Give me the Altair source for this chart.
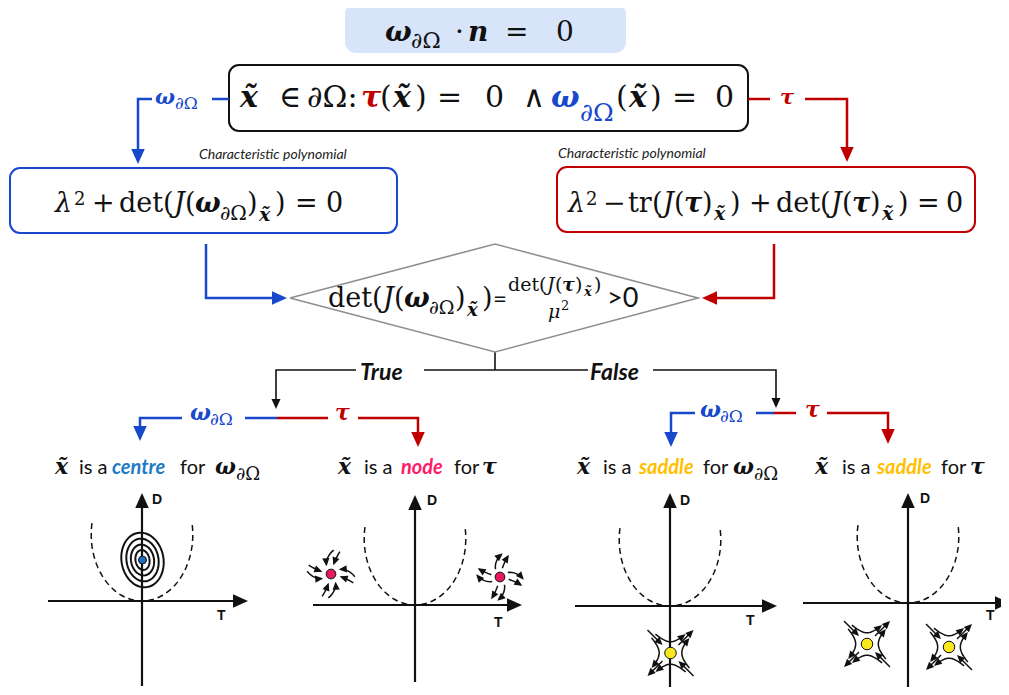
import math
import numpy as np
import pandas as pd
import altair as alt

# ---------------- canvas (reference pixel coordinates) ----------------
W, H = 993, 679
X_DOMAIN = [8, 8 + W]
Y_DOMAIN = [8 + H, 8]

BLUE = "#1848cc"
RED = "#c00000"
BLACK = "#111111"
GREY = "#8f8f8f"
TITLE_FILL = "#d7e4fa"
CENTRE_COL = "#1f7ac8"
NODE_COL = "#ff1a6c"
SADDLE_COL = "#ffc000"
DOT_CENTRE = "#1f6fc1"
DOT_NODE = "#e8185c"
DOT_SADDLE = "#f8e71c"

# ---------------- boxes ----------------
BOX_X1 = [346, 229, 10, 557]
BOX_X2 = [625, 748, 397, 975]
BOX_Y1 = [4, 65, 168, 167]
BOX_Y2 = [52, 131, 233, 232]
BOX_FILL = [TITLE_FILL, "white", "white", "white"]
BOX_STROKE = [TITLE_FILL, BLACK, BLUE, RED]

# ---------------- connectors: (colour, width, arrow radius, points) ----------------
CONNECTORS = [
    (BLUE, 2.5, 0, [(229, 99), (212, 99)]),
    (BLUE, 2.5, 7.5, [(152, 99), (138, 99), (138, 164)]),
    (RED, 2.5, 0, [(748, 99), (770, 99)]),
    (RED, 2.5, 7.5, [(805, 99), (847, 99), (847, 162)]),
    (BLUE, 2.5, 7.5, [(206, 244), (206, 298), (287, 298)]),
    (RED, 2.5, 7.5, [(774, 244), (774, 298), (702, 298)]),
    (BLUE, 2.5, 0, [(277, 418), (245, 418)]),
    (BLUE, 2.5, 7.5, [(182, 418), (140, 418), (140, 441)]),
    (RED, 2.5, 0, [(277, 418), (328, 418)]),
    (RED, 2.5, 7.5, [(358, 418), (418, 418), (418, 447)]),
    (BLUE, 2.5, 0, [(774, 413), (756, 413)]),
    (BLUE, 2.5, 7.5, [(695, 413), (671, 413), (671, 447)]),
    (RED, 2.5, 0, [(774, 413), (796, 413)]),
    (RED, 2.5, 7.5, [(827, 413), (888, 413), (888, 444)]),
    (BLACK, 1.6, 0, [(495, 352), (495, 370)]),
    (BLACK, 1.6, 5, [(356, 370), (276, 370), (276, 409)]),
    (BLACK, 1.6, 0, [(424, 370), (588, 370)]),
    (BLACK, 1.6, 5, [(653, 370), (776, 370), (776, 408)]),
]
DIAMOND_X = [290, 495, 698, 495, 290]
DIAMOND_Y = [298, 244, 298, 352, 298]

# ---------------- text pieces: (text, left x, baseline y, size, colour, style) ----------------
XT = "x\u0303"
TITLE_TEXT = [
    ("ω", 385, 41, 28, BLACK, "mbi"), ("∂Ω", 411, 48, 22, BLACK, "m"),
    ("·", 455, 41, 28, BLACK, "m"), ("n", 468, 41, 28, BLACK, "mbi"),
    ("=", 505, 41, 28, BLACK, "m"), ("0", 556, 41, 28, BLACK, "m"),
]
MAIN_TEXT = [
    (XT, 240, 107, 30, BLACK, "mbi"), ("∈", 279, 107, 30, BLACK, "m"),
    ("∂Ω:", 307, 107, 30, BLACK, "m"), ("τ", 361, 107, 30, RED, "mbi"),
    ("(", 380, 107, 30, BLACK, "m"), (XT, 393, 107, 30, BLACK, "mbi"),
    (")", 415, 107, 30, BLACK, "m"), ("=", 437, 107, 30, BLACK, "m"),
    ("0", 485, 107, 30, BLACK, "m"), ("∧", 523, 107, 30, BLACK, "m"),
    ("ω", 551, 107, 30, BLUE, "mbi"), ("∂Ω", 580, 121, 25, BLUE, "m"),
    ("(", 616, 107, 30, BLACK, "m"), (XT, 629, 107, 30, BLACK, "mbi"),
    (")", 650, 107, 30, BLACK, "m"), ("=", 672, 107, 30, BLACK, "m"),
    ("0", 715, 107, 30, BLACK, "m"),
]
LEFT_EQ = [
    ("λ", 55, 212, 27, BLACK, "mi"), ("2", 74, 205, 18, BLACK, "m"),
    ("+", 92, 212, 27, BLACK, "m"), ("det", 119, 212, 27, BLACK, "m"),
    ("(", 163, 212, 27, BLACK, "m"), ("J", 174, 212, 27, BLACK, "mi"),
    ("(", 185, 212, 27, BLACK, "m"), ("ω", 195, 212, 27, BLACK, "mbi"),
    ("∂Ω", 220, 220, 20, BLACK, "m"), (")", 247, 212, 27, BLACK, "m"),
    (XT, 259, 221, 19, BLACK, "mbi"), (")", 275, 212, 27, BLACK, "m"),
    ("=", 295, 212, 27, BLACK, "m"), ("0", 326, 212, 27, BLACK, "m"),
]
RIGHT_EQ = [
    ("λ", 568, 212, 27, BLACK, "mi"), ("2", 586, 205, 18, BLACK, "m"),
    ("−", 603, 212, 27, BLACK, "m"), ("tr", 628, 212, 27, BLACK, "m"),
    ("(", 652, 212, 27, BLACK, "m"), ("J", 663, 212, 27, BLACK, "mi"),
    ("(", 674, 212, 27, BLACK, "m"), ("τ", 684, 212, 27, BLACK, "mbi"),
    (")", 702, 212, 27, BLACK, "m"), (XT, 714, 220, 19, BLACK, "mbi"),
    (")", 730, 212, 27, BLACK, "m"), ("+", 749, 212, 27, BLACK, "m"),
    ("det", 776, 212, 27, BLACK, "m"), ("(", 820, 212, 27, BLACK, "m"),
    ("J", 831, 212, 27, BLACK, "mi"), ("(", 842, 212, 27, BLACK, "m"),
    ("τ", 852, 212, 27, BLACK, "mbi"), (")", 870, 212, 27, BLACK, "m"),
    (XT, 882, 220, 19, BLACK, "mbi"), (")", 898, 212, 27, BLACK, "m"),
    ("=", 917, 212, 27, BLACK, "m"), ("0", 946, 212, 27, BLACK, "m"),
]
DIAMOND_EQ = [
    ("det", 328, 307, 27, BLACK, "m"), ("(", 372, 307, 27, BLACK, "m"),
    ("J", 383, 307, 27, BLACK, "mi"), ("(", 394, 307, 27, BLACK, "m"),
    ("ω", 404, 307, 27, BLACK, "mbi"), ("∂Ω", 429, 314, 19, BLACK, "m"),
    (")", 455, 307, 27, BLACK, "m"), (XT, 467, 316, 18, BLACK, "mbi"),
    (")", 482, 307, 27, BLACK, "m"), ("=", 493, 307, 24, BLACK, "s"),
    ("det", 508, 291, 19, BLACK, "m"), ("(", 539, 291, 19, BLACK, "m"),
    ("J", 547, 291, 19, BLACK, "mi"), ("(", 555, 291, 19, BLACK, "m"),
    ("τ", 562, 291, 19, BLACK, "mbi"), (")", 575, 291, 19, BLACK, "m"),
    (XT, 584, 296, 13, BLACK, "mbi"), (")", 594, 291, 19, BLACK, "m"),
    ("μ", 548, 318, 19, BLACK, "mi"), ("2", 561, 310, 13, BLACK, "m"),
    (">0", 607, 307, 27, BLACK, "s"),
]
FLOW_TEXT = [
    ("Characteristic polynomial", 199, 159, 14, "#222222", "si"),
    ("Characteristic polynomial", 558, 158, 14, "#222222", "si"),
    ("ω", 155, 104, 21, BLUE, "mbi"), ("∂Ω", 175, 109, 17, BLUE, "m"),
    ("τ", 780, 104, 21, RED, "mbi"),
    ("True", 360, 380, 23, BLACK, "sbi"), ("False", 590, 380, 23, BLACK, "sbi"),
    ("ω", 190, 420, 22, BLUE, "mbi"), ("∂Ω", 210, 425, 17, BLUE, "m"),
    ("τ", 335, 420, 22, RED, "mbi"),
    ("ω", 700, 417, 22, BLUE, "mbi"), ("∂Ω", 720, 422, 17, BLUE, "m"),
    ("τ", 805, 417, 22, RED, "mbi"),
]
LABELS = [
    (XT, 55, 474, 22, BLACK, "mbi"), ("is a", 79, 474, 20, BLACK, "s"),
    ("centre", 112, 474, 20, CENTRE_COL, "sbi"), ("for", 180, 474, 20, BLACK, "s"),
    ("ω", 215, 474, 22, BLACK, "mbi"), ("∂Ω", 236, 480, 18, BLACK, "m"),
    (XT, 338, 474, 22, BLACK, "mbi"), ("is a", 364, 474, 20, BLACK, "s"),
    ("node", 401, 474, 20, NODE_COL, "sbi"), ("for", 454, 474, 20, BLACK, "s"),
    ("τ", 482, 474, 22, BLACK, "mbi"),
    (XT, 577, 474, 22, BLACK, "mbi"), ("is a", 603, 474, 20, BLACK, "s"),
    ("saddle", 639, 474, 20, SADDLE_COL, "sbi"), ("for", 703, 474, 20, BLACK, "s"),
    ("ω", 733, 474, 22, BLACK, "mbi"), ("∂Ω", 754, 480, 18, BLACK, "m"),
    (XT, 815, 474, 22, BLACK, "mbi"), ("is a", 842, 474, 20, BLACK, "s"),
    ("saddle", 877, 474, 20, SADDLE_COL, "sbi"), ("for", 941, 474, 20, BLACK, "s"),
    ("τ", 970, 474, 22, BLACK, "mbi"),
]

# ---------------- phase portraits (trace T, determinant D planes) ----------------
P_OX = [142, 415, 670, 908]
P_OY = [601, 605, 606, 603]
P_XL = [48, 313, 575, 803]
P_XT = [248, 522, 777, 1010]
P_YT = [493, 495, 493, 493]
P_YB = [686, 682, 695, 692]
P_D_LABEL = [(152, 504), (427, 505), (680, 505), (920, 503)]
P_T_LABEL = [(217, 620), (494, 627), (746, 625), (986, 620)]
# dashed boundary curve (U shaped): half width and depth
PAR_A = 50.8
PAR_B = 66.4
PAR_SPAN = 100

ELL_A = [21, 16, 11.5, 7]
ELL_B = [27.5, 21.5, 15.5, 10]
ELL_TILT = -10
ELL_C = (142.5, 560)

DOT_X = [142.5, 331, 500, 670.5, 867, 949]
DOT_Y = [560, 574, 577, 653, 644, 647]
DOT_FILL = [DOT_CENTRE, DOT_NODE, DOT_NODE, DOT_SADDLE, DOT_SADDLE, DOT_SADDLE]
DOT_AREA = [64, 95, 95, 133, 133, 133]
NODES = [(331, 574, True), (500, 577, False)]
SADDLES = [(670.5, 653), (867, 644), (949, 647)]

# ---------------- geometry builders ----------------
line_rows, head_rows, dash_rows = [], [], []
pid = [0]


def add_path(pts, col, w, head_r=0.0):
    pts = [tuple(map(float, p)) for p in pts]
    if head_r > 0:
        (x0, y0), (x1, y1) = pts[-2], pts[-1]
        dx, dy = x1 - x0, y1 - y0
        n = math.hypot(dx, dy) or 1.0
        dx, dy = dx / n, dy / n
        cx, cy = x1 - head_r * dx, y1 - head_r * dy
        ang = math.degrees(math.atan2(dx, -dy)) % 360
        head_rows.append(dict(x=cx, y=cy, ang=ang, sz=(2 * head_r) ** 2, col=col))
        pts[-1] = (cx, cy)
    for i, (x, y) in enumerate(pts):
        line_rows.append(dict(pid=pid[0], seq=i, x=x, y=y, col=col, w=w))
    pid[0] += 1


for col, w, r, pts in CONNECTORS:
    add_path(pts, col, w, r)
add_path(list(zip(DIAMOND_X, DIAMOND_Y)), GREY, 1.6)

for k in range(4):
    ox, oy = P_OX[k], P_OY[k]
    add_path([(P_XL[k], oy), (P_XT[k], oy)], BLACK, 2.2, 7.5)
    add_path([(ox, P_YB[k]), (ox, P_YT[k])], BLACK, 2.2, 7.5)
    for j, t in enumerate(np.linspace(-PAR_SPAN, PAR_SPAN, 51)):
        tr = math.radians(t)
        dash_rows.append(dict(pid=k, seq=j, x=ox + PAR_A * math.sin(tr),
                              y=oy - PAR_B + PAR_B * math.cos(tr)))

al = math.radians(ELL_TILT)
for a, b in zip(ELL_A, ELL_B):
    pts = []
    for t in np.linspace(0, 2 * math.pi, 61):
        ex, ey = a * math.cos(t), b * math.sin(t)
        pts.append((ELL_C[0] + ex * math.cos(al) - ey * math.sin(al),
                    ELL_C[1] + ex * math.sin(al) + ey * math.cos(al)))
    add_path(pts, BLACK, 2.0)

for cx, cy, inward in NODES:
    for k in range(8):
        th = math.radians(k * 45 + 15)
        bend = 0.55 if k % 2 else 0.1
        pts = [(cx + r * math.cos(th + bend * (r - 9) / 13),
                cy + r * math.sin(th + bend * (r - 9) / 13))
               for r in np.linspace(24, 9, 9)]
        if not inward:
            pts = pts[::-1]
        add_path(pts, BLACK, 1.5, 4)

S2 = math.sqrt(2)
for cx, cy in SADDLES:
    add_path([(cx - 23, cy - 23), (cx - 8, cy - 8)], BLACK, 1.5, 4)
    add_path([(cx + 23, cy + 23), (cx + 8, cy + 8)], BLACK, 1.5, 4)
    add_path([(cx + 8, cy - 8), (cx + 23, cy - 23)], BLACK, 1.5, 4)
    add_path([(cx - 8, cy + 8), (cx - 23, cy + 23)], BLACK, 1.5, 4)
    for su, sv in [(1, -1), (1, 1), (-1, -1), (-1, 1)]:
        pts = []
        for t in np.linspace(-1.1, 1.1, 16):
            u = su * 8.0 * math.exp(t)
            v = sv * 8.0 * math.exp(-t)
            pts.append((cx + (u + v) / S2, cy + (-u + v) / S2))
        add_path(pts, BLACK, 1.5, 4)

# ---------------- data frames ----------------
box_df = pd.DataFrame(dict(x1=BOX_X1, x2=BOX_X2, y1=BOX_Y1, y2=BOX_Y2,
                           fill=BOX_FILL, stroke=BOX_STROKE))
line_df = pd.DataFrame(line_rows)
head_df = pd.DataFrame(head_rows)
dash_df = pd.DataFrame(dash_rows)
dot_df = pd.DataFrame(dict(x=DOT_X, y=DOT_Y, fill=DOT_FILL, area=DOT_AREA))

pieces = TITLE_TEXT + MAIN_TEXT + LEFT_EQ + RIGHT_EQ + DIAMOND_EQ + FLOW_TEXT + LABELS
for (lx, ly) in P_D_LABEL:
    pieces.append(("D", lx, ly, 14, BLACK, "ab"))
for (lx, ly) in P_T_LABEL:
    pieces.append(("T", lx, ly, 14, BLACK, "ab"))
text_df = pd.DataFrame(pieces, columns=["t", "x", "y", "sz", "c", "sty"])

# ---------------- chart ----------------
XS = alt.Scale(domain=X_DOMAIN, nice=False, zero=False)
YS = alt.Scale(domain=Y_DOMAIN, nice=False, zero=False)


def X(f):
    return alt.X(f, type="quantitative", scale=XS, axis=None)


def Y(f):
    return alt.Y(f, type="quantitative", scale=YS, axis=None)


boxes = alt.Chart(box_df).mark_rect(cornerRadius=10, strokeWidth=2).encode(
    x=X("x1"), x2=alt.X2("x2"), y=Y("y1"), y2=alt.Y2("y2"),
    fill=alt.Fill("fill:N", scale=None), stroke=alt.Stroke("stroke:N", scale=None))

lines = alt.Chart(line_df).mark_line(strokeCap="butt", strokeJoin="miter").encode(
    x=X("x"), y=Y("y"), detail="pid:N", order="seq:Q",
    color=alt.Color("col:N", scale=None),
    strokeWidth=alt.StrokeWidth("w:Q", scale=None))

dashes = alt.Chart(dash_df).mark_line(strokeDash=[6, 4], strokeWidth=1.5, color=BLACK).encode(
    x=X("x"), y=Y("y"), detail="pid:N", order="seq:Q")

ARROW = "M0,-1L0.9,1L-0.9,1Z"
heads = alt.Chart(head_df).mark_point(shape=ARROW, filled=True, opacity=1, strokeWidth=0).encode(
    x=X("x"), y=Y("y"), angle=alt.Angle("ang:Q", scale=None),
    size=alt.Size("sz:Q", scale=None), color=alt.Color("col:N", scale=None))

dots = alt.Chart(dot_df).mark_circle(stroke=BLACK, strokeWidth=1, opacity=1).encode(
    x=X("x"), y=Y("y"), size=alt.Size("area:Q", scale=None),
    color=alt.Color("fill:N", scale=None))

STYLES = {
    "m": dict(font="DejaVu Serif"),
    "mi": dict(font="DejaVu Serif", fontStyle="italic"),
    "mbi": dict(font="DejaVu Serif", fontStyle="italic", fontWeight="bold"),
    "s": dict(font="Lato"),
    "si": dict(font="Lato", fontStyle="italic"),
    "sbi": dict(font="Lato", fontStyle="italic", fontWeight="bold"),
    "ab": dict(font="Liberation Sans", fontWeight="bold"),
}
texts = []
for key, st in STYLES.items():
    texts.append(
        alt.Chart(text_df).transform_filter(alt.datum.sty == key)
        .mark_text(align="left", baseline="alphabetic", **st)
        .encode(x=X("x"), y=Y("y"), text="t:N",
                size=alt.Size("sz:Q", scale=None), color=alt.Color("c:N", scale=None)))

chart = alt.layer(boxes, dashes, lines, heads, dots, *texts).properties(
    width=W, height=H, autosize=alt.AutoSizeParams(type="none"), padding=0,
    background="white",
).configure_view(stroke=None)

chart.save("out.html", embed_options={"renderer": "svg", "actions": False})
